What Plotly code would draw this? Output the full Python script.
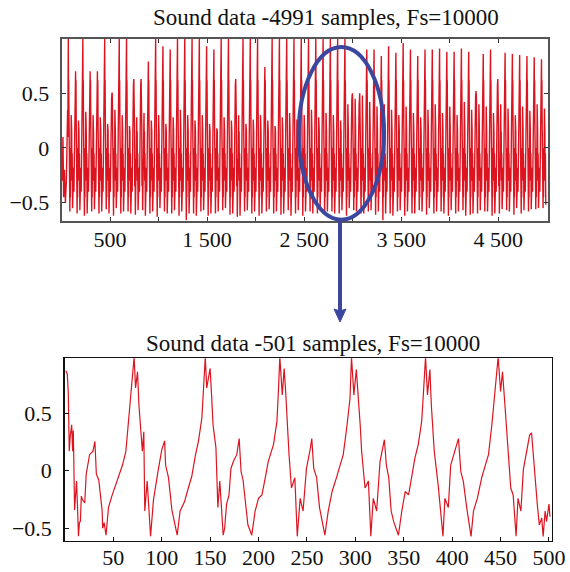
import plotly.graph_objects as go

# ---------------- data ----------------
# Top panel: 4991 samples, quasi-periodic pulses (one pulse per glottal cycle)
n_samples_top = 4991
first_pulse = 70
pulse_period = 75
# per-cycle pulse peak heights (1.0 = clipped at the frame)
pulse_peak = [1.00, 0.70, 1.00, 0.70, 0.70, 1.00, 0.50, 1.00, 1.00, 0.63,
              0.63, 0.79, 1.00, 0.93, 0.90, 1.00, 1.00, 1.00, 1.00, 0.93,
              0.90, 1.00, 1.00, 0.63, 1.00, 1.00, 1.00, 0.74, 1.00, 1.00,
              1.00, 1.00, 1.00, 1.00, 1.00, 1.00, 1.00, 1.00, 1.00, 0.49,
              0.45, 0.90, 0.90, 0.84, 0.93, 0.87, 0.96, 0.90, 0.84, 0.90,
              0.90, 0.91, 0.88, 0.88, 0.91, 0.88, 0.52, 0.86, 0.90, 0.63,
              0.87, 0.86, 0.85, 0.84, 0.83, 0.81]
# per-cycle secondary peak heights
second_peak = [0.30, 0.25, 0.33, 0.30, 0.28, 0.22, 0.35, 0.30, 0.20, 0.28,
               0.32, 0.25, 0.30, 0.22, 0.28, 0.35, 0.30, 0.25, 0.30, 0.22,
               0.18, 0.28, 0.25, 0.30, 0.22, 0.26, 0.30, 0.25, 0.20, 0.28,
               0.32, 0.26, 0.30, 0.35, 0.28, 0.32, 0.30, 0.25, 0.40, 0.45,
               0.48, 0.42, 0.38, 0.40, 0.35, 0.30, 0.38, 0.32, 0.28, 0.35,
               0.40, 0.32, 0.38, 0.30, 0.42, 0.35, 0.40, 0.38, 0.32, 0.40,
               0.36, 0.30, 0.38, 0.34, 0.40, 0.36]
# per-cycle trough depths (first and second trough)
trough_a = [-0.58, -0.60, -0.62, -0.58, -0.60, -0.56, -0.62, -0.60, -0.58, -0.61,
            -0.57, -0.60, -0.63, -0.58, -0.60, -0.62, -0.66, -0.60, -0.58, -0.62,
            -0.60, -0.57, -0.61, -0.63, -0.58, -0.60, -0.62, -0.58, -0.60, -0.61,
            -0.57, -0.60, -0.62, -0.58, -0.60, -0.61, -0.58, -0.60, -0.62, -0.57,
            -0.60, -0.58, -0.61, -0.66, -0.60, -0.58, -0.62, -0.60, -0.57, -0.61,
            -0.60, -0.58, -0.62, -0.60, -0.57, -0.61, -0.60, -0.58, -0.62, -0.60,
            -0.57, -0.61, -0.60, -0.58, -0.56, -0.55]
trough_b = [-0.55, -0.57, -0.60, -0.56, -0.58, -0.60, -0.55, -0.58, -0.60, -0.57,
            -0.62, -0.58, -0.55, -0.60, -0.57, -0.58, -0.60, -0.62, -0.57, -0.60,
            -0.58, -0.55, -0.60, -0.62, -0.57, -0.58, -0.60, -0.56, -0.58, -0.60,
            -0.62, -0.57, -0.58, -0.60, -0.56, -0.58, -0.60, -0.57, -0.55, -0.58,
            -0.60, -0.57, -0.58, -0.60, -0.62, -0.57, -0.58, -0.60, -0.58, -0.55,
            -0.58, -0.60, -0.57, -0.58, -0.62, -0.60, -0.57, -0.58, -0.60, -0.56,
            -0.58, -0.55, -0.57, -0.56, -0.55, -0.52]
lead_in_x = [1, 8, 15, 22, 30, 40, 50, 58]
lead_in_y = [-0.05, -0.30, 0.10, -0.45, -0.20, -0.50, -0.30, 0.00]

# Bottom panel: 501-sample excerpt (vertices)
zoom_x = [1, 2.5, 3.5, 4.5, 5.5, 7, 8, 8.7, 10, 11, 12, 13, 14, 15, 16, 17, 18, 20.5, 22, 25.5,
          29, 31, 32.5, 35, 36.5, 38.5, 39, 40.5, 42.5, 45, 48.5, 52.5, 56, 59.5, 63, 66, 68, 70,
          71.5, 73, 75, 76.5, 78, 80, 81.5, 82.5, 85, 88.5, 91.5, 95, 96.5, 100, 103, 104, 107,
          110.5, 114, 116, 119, 123.5, 127.5, 131, 134.5, 138, 141.5, 145, 146.5, 150, 151.5,
          153, 156, 158, 160, 163.5, 165, 167, 169.5, 171.5, 174, 177.5, 180, 182, 184, 187, 189,
          193, 196.5, 200, 203.5, 207, 210, 215.5, 219, 220.5, 222, 224.5, 226.5, 228, 229.5,
          231.5, 234, 237.5, 240, 243, 246, 249.5, 253, 255, 257, 260, 263, 267, 268.5, 272, 276,
          280.5, 284, 287.5, 291, 294.5, 296, 298.5, 301, 303, 305, 306.5, 310, 313.5, 316, 318.5,
          322, 325.5, 330, 332, 334.5, 337, 339.5, 342, 344.5, 348, 351.5, 355, 358, 361.5, 365,
          368.5, 370, 372.5, 374.5, 377, 378.5, 380, 381.5, 385.5, 388, 390.5, 392.5, 396, 398.5,
          403, 406.5, 409, 411.5, 415, 418, 419.5, 422, 426, 430.5, 434, 437.5, 441, 444, 447.5,
          450, 452, 454.5, 456, 458, 460.5, 463, 466, 468, 471, 473.5, 477, 480, 482, 484.5,
          486.5, 488, 490, 492.5, 494, 496, 497.5, 500, 501]
zoom_y = [0.87, 0.84, 0.68, 0.17, 0.30, 0.40, 0.17, 0.35, -0.34, -0.15, -0.09, -0.30, -0.57,
          -0.45, -0.44, -0.22, -0.25, -0.28, -0.03, 0.14, 0.17, 0.255, -0.03, -0.08, -0.18,
          -0.35, -0.50, -0.45, -0.56, -0.32, -0.22, -0.12, -0.03, 0.05, 0.17, 0.46, 0.63, 0.78,
          0.99, 0.72, 0.86, 0.57, 0.39, 0.17, 0.34, -0.35, -0.09, -0.57, -0.25, -0.09, 0.01,
          0.18, 0.26, 0.05, -0.06, -0.34, -0.47, -0.56, -0.35, -0.27, -0.15, -0.05, 0.12, 0.26,
          0.46, 0.99, 0.72, 0.89, 0.66, 0.40, 0.20, -0.32, -0.09, -0.56, -0.50, -0.29, -0.21,
          0.02, 0.08, 0.14, 0.28, -0.01, -0.08, -0.35, -0.47, -0.56, -0.35, -0.24, -0.21, -0.06,
          0.08, 0.23, 0.43, 0.69, 0.99, 0.66, 0.89, 0.69, 0.40, 0.14, -0.15, -0.06, -0.57,
          -0.24, -0.35, 0.02, 0.17, 0.28, 0.02, -0.06, -0.32, -0.50, -0.56, -0.35, -0.18, -0.06,
          0.05, 0.14, 0.37, 0.63, 0.99, 0.66, 0.88, 0.66, 0.40, 0.17, -0.15, -0.09, -0.57, -0.24,
          -0.35, 0.08, 0.27, 0.05, -0.06, -0.35, -0.44, -0.50, -0.56, -0.35, -0.18, -0.21, -0.06,
          0.11, 0.23, 0.43, 0.63, 0.99, 0.66, 0.88, 0.57, 0.39, 0.17, -0.12, -0.32, -0.57, -0.24,
          -0.32, 0.05, 0.17, 0.28, -0.01, -0.09, -0.32, -0.50, -0.57, -0.35, -0.24, -0.06, 0.05,
          0.14, 0.40, 0.69, 0.99, 0.69, 0.86, 0.57, 0.39, 0.14, -0.15, -0.21, -0.57, -0.24,
          -0.35, 0.01, 0.17, 0.31, 0.33, 0.05, -0.09, -0.30, -0.47, -0.41, -0.57, -0.35, -0.44,
          -0.29, -0.40]

top_xticks = [500, 1000, 1500, 2000, 2500, 3000, 3500, 4000, 4500]
top_xlabels = ["500", "", "1 500", "", "2 500", "", "3 500", "", "4 500"]
bottom_xticks = [50, 100, 150, 200, 250, 300, 350, 400, 450, 500]
bottom_xlabels = ["50", "100", "150", "200", "250", "300", "350", "400", "450", "500"]
yticks = [-0.5, 0, 0.5]
ylabels = ["\u22120.5", "0", "0.5"]
title_top = "Sound data -4991 samples, Fs=10000"
title_bottom = "Sound data -501 samples, Fs=10000"

# ------------- build the top waveform vertices from the per-cycle values -------------
top_x = list(lead_in_x)
top_y = list(lead_in_y)
for k in range(len(pulse_peak)):
    s = first_pulse + pulse_period * k
    p = pulse_peak[k]
    pre = min(0.6, p - 0.05)
    post = min(0.62, p - 0.05)
    seg = [(s - 7, 0.35), (s - 5, 0.1), (s - 4, pre), (s, p), (s + 2, 0.5), (s + 4, post),
           (s + 7, 0.2), (s + 9, -0.35), (s + 12, -0.1), (s + 16, trough_a[k]),
           (s + 19, -0.25), (s + 21, -0.45), (s + 24, 0.0), (s + 27, -0.2),
           (s + 30, second_peak[k]), (s + 33, 0.0), (s + 35, 0.15),
           (s + 37, -0.3), (s + 40, -0.05), (s + 44, trough_b[k]), (s + 48, -0.35),
           (s + 51, -0.5), (s + 55, -0.18), (s + 58, -0.4), (s + 62, 0.05)]
    for sx, sy in seg:
        if sx <= n_samples_top:
            top_x.append(sx)
            top_y.append(sy)

RED = "#dc1420"
BLUE = "#3b479f"
W, H = 570, 572

fig = go.Figure()
fig.add_trace(go.Scatter(x=top_x, y=top_y, mode="lines", xaxis="x", yaxis="y",
                         line=dict(color=RED, width=1.4), showlegend=False, hoverinfo="skip"))
fig.add_trace(go.Scatter(x=zoom_x, y=zoom_y, mode="lines", xaxis="x2", yaxis="y2",
                         line=dict(color=RED, width=1.2), showlegend=False,
                         hoverinfo="skip"))

font_ticks = dict(family="Liberation Serif, Times New Roman, serif", size=22, color="#111")


def px(x):
    return x / W


def py(y):
    return 1 - y / H


common_axis = dict(showgrid=False, zeroline=False, ticks="inside", ticklen=4,
                   tickfont=font_ticks, showline=True, automargin=False)

fig.update_layout(
    width=W, height=H, autosize=False,
    margin=dict(l=0, r=0, t=0, b=0),
    paper_bgcolor="white", plot_bgcolor="white",
    hovermode=False,
    xaxis=dict(domain=[px(61.7), px(548.3)], range=[2, 5015], tickmode="array",
               tickvals=top_xticks, ticktext=top_xlabels, anchor="y",
               mirror="ticks", linecolor="#555", linewidth=2, tickcolor="#333",
               ticklabelstandoff=-2, **common_axis),
    yaxis=dict(domain=[py(220.7), py(39)], range=[-0.665, 0.996], tickmode="array",
               tickvals=yticks, ticktext=ylabels, anchor="x",
               mirror="ticks", linecolor="#555", linewidth=2, tickcolor="#333",
               ticklabelstandoff=6, **common_axis),
    xaxis2=dict(domain=[px(64.7), px(551.7)], range=[-0.2, 502.8], tickmode="array",
                tickvals=bottom_xticks, ticktext=bottom_xlabels, anchor="y2",
                mirror=True, linecolor="#111", linewidth=1.5, tickcolor="#111",
                ticklabelstandoff=-4, **common_axis),
    yaxis2=dict(domain=[py(540.7), py(358.3)], range=[-0.608, 0.978], tickmode="array",
                tickvals=yticks, ticktext=ylabels, anchor="x2",
                mirror=True, linecolor="#111", linewidth=1.5, tickcolor="#111",
                ticklabelstandoff=7, **common_axis),
)

title_font = dict(family="Liberation Serif, Times New Roman, serif", size=23, color="#111")
fig.add_annotation(text=title_top, x=px(326), y=py(18), xref="paper", yref="paper",
                   showarrow=False, font=title_font, xanchor="center", yanchor="middle")
fig.add_annotation(text=title_bottom, x=px(313.3), y=py(343), xref="paper", yref="paper",
                   showarrow=False, font=title_font, xanchor="center", yanchor="middle")

# Highlight ellipse and arrow (annotation graphics in paper space)
fig.add_shape(type="circle", xref="paper", yref="paper",
              x0=px(298.7), x1=px(384), y0=py(219.7), y1=py(47),
              line=dict(color=BLUE, width=4), fillcolor="rgba(0,0,0,0)")
fig.add_shape(type="line", xref="paper", yref="paper",
              x0=px(340), x1=px(340), y0=py(221), y1=py(312),
              line=dict(color=BLUE, width=4))
fig.add_shape(type="path", xref="paper", yref="paper",
              path=f"M {px(334)} {py(309)} L {px(340)} {py(311)} L {px(346)} {py(309)} "
                   f"L {px(340)} {py(322)} Z",
              line=dict(color=BLUE, width=1), fillcolor=BLUE)

fig.write_html("out.html",
               config={"displayModeBar": False, "staticPlot": True},
               post_script="document.body.style.margin='0';"
                           "document.body.style.padding='0';"
                           "document.documentElement.style.overflow='hidden';")
